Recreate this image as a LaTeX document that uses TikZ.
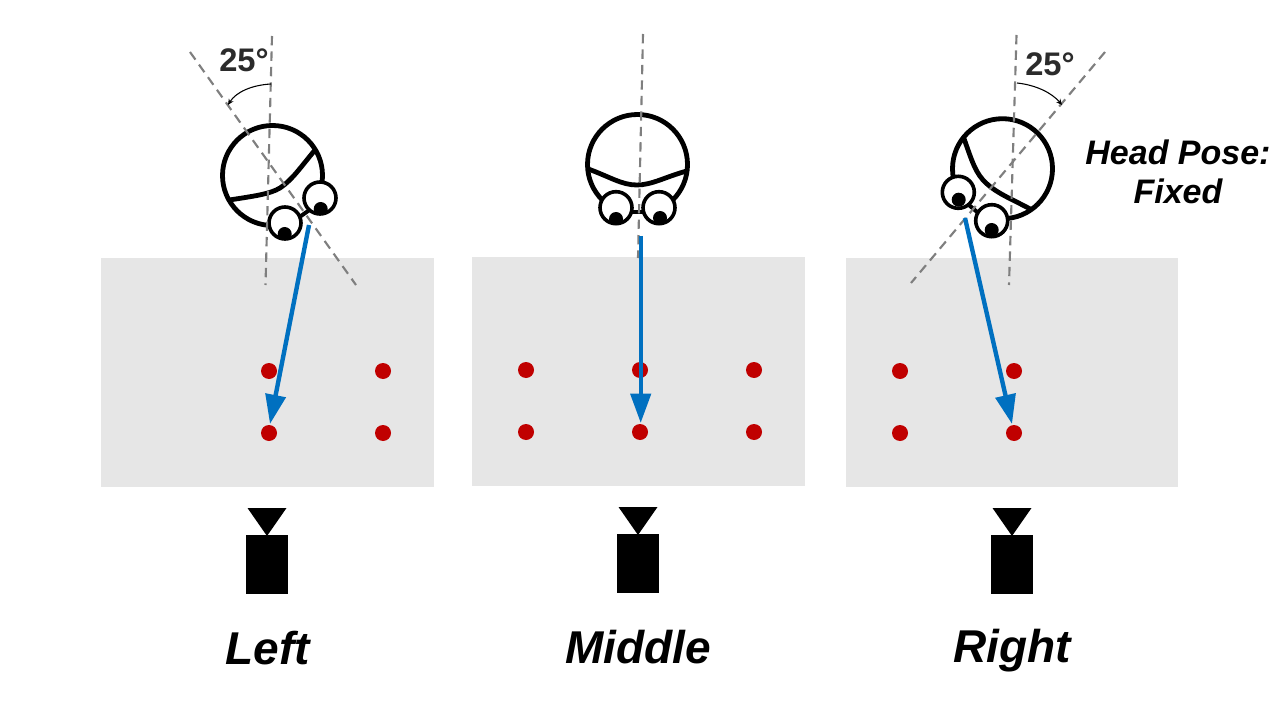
\documentclass[tikz,border=0pt]{standalone}
\usepackage{fontspec}
\setmainfont{Liberation Sans}
\usetikzlibrary{arrows.meta}
\definecolor{gazeblue}{HTML}{0070C0}
\definecolor{dotred}{HTML}{C00000}
\definecolor{panelgrey}{HTML}{E6E6E6}
\definecolor{axisgrey}{HTML}{7F7F7F}
\definecolor{labelgrey}{HTML}{2B2B2B}
\tikzset{
 panel/.style={fill=panelgrey,draw=none},
 target/.style={fill=dotred,draw=none},
 axisline/.style={draw=axisgrey,line width=1.6pt,dash pattern=on 7pt off 4.6pt},
 gaze/.style={draw=gazeblue,line width=3.3pt,-{Triangle[length=22pt,width=15pt]}},
 headline/.style={line width=3.6pt,draw=black},
 eyeball/.style={line width=2.7pt,draw=black,fill=white},
 angmark/.style={draw=black,line width=.8pt,-{Stealth[length=4.5pt,width=4pt]}},
 captext/.style={font=\fontsize{34.5}{36}\selectfont\bfseries\itshape,inner sep=0pt,anchor=base},
 note/.style={font=\fontsize{25.5}{29}\selectfont\bfseries\itshape,inner sep=0pt,align=center},
 deg/.style={font=\fontsize{24.5}{26}\selectfont\bfseries,text=labelgrey,inner sep=0pt},
}
\newcommand{\camera}[1]{%
 \fill (#1-19.5,508) -- (#1+19.5,508) -- (#1,536) -- cycle;
 \fill (#1-21,535) rectangle (#1+21,594);}
\newcommand{\eyeat}[4]{%
 \begin{scope}
 \clip (#1,#2) circle[radius=16];
 \fill (#3,#4) circle[radius=7];
 \end{scope}
 \draw[eyeball,fill=none] (#1,#2) circle[radius=16];}
\begin{document}
\begin{tikzpicture}[x=.75pt,y=-.75pt]
\useasboundingbox (0,0) rectangle (1280,720);
% panels
\fill[panel] (101,258) rectangle (433.5,486.5);
\fill[panel] (472,257) rectangle (804.5,485.5);
\fill[panel] (846,258) rectangle (1178,486.5);
% dots
\foreach \x/\y in {269/371,383/371,269/433,383/433,526/370,640/370,754/370,526/432,640/432,754/432,900/371,1014/371,900/433,1014/433}
  \fill[target] (\x,\y) circle[radius=8];
% head left
\draw[headline] (272.5,175.5) circle[radius=50];
\draw[headline] (229.3,200) .. controls (255,196) and (270,194) .. (280,188) .. controls (292,180) and (300,168) .. (315,150);
\fill[white] (303,209) circle[radius=17];
\draw[line width=3pt] (287,226) -- (322,201);
\fill[white] (320,198) circle[radius=16]; \fill[white] (285,223) circle[radius=16];
\eyeat{320}{198}{320.7}{209}
\eyeat{285}{223}{284.7}{234}
% head middle
\draw[headline] (637.5,164.5) circle[radius=50];
\fill[white] (637.5,212) circle[radius=15];
\draw[headline] (588.3,169) .. controls (610,177) and (622,185) .. (636.7,185) .. controls (652,185) and (665,177) .. (686.7,171);
\draw[line width=3pt] (616,212.5) -- (659,212.5);
\fill[white] (616,207.7) circle[radius=16]; \fill[white] (659,207.7) circle[radius=16];
\eyeat{616}{207.7}{616}{219}
\eyeat{659}{207.7}{660}{218}
% head right
\draw[headline] (1002.5,168.7) circle[radius=50];
\fill[white] (975,206) circle[radius=17];
\draw[headline] (963.3,136.7) .. controls (970,155) and (974,170) .. (983,180) .. controls (995,193) and (1012,199) .. (1030.7,209.3);
\draw[line width=3pt] (956.3,194.3) -- (989.7,222.7);
\fill[white] (958.3,192.3) circle[radius=16]; \fill[white] (991.7,220.7) circle[radius=16];
\eyeat{958.3}{192.3}{958.7}{199.7}
\eyeat{991.7}{220.7}{991.7}{230}
% axes
\coordinate (lvt) at (272,36); \coordinate (lvb) at (265.5,285);
\coordinate (ldt) at (190,52); \coordinate (ldb) at (356,285);
\coordinate (mvt) at (643,34); \coordinate (mvb) at (638,258);
\coordinate (rvt) at (1016.5,35); \coordinate (rvb) at (1009,285);
\coordinate (rdt) at (1105,52); \coordinate (rdb) at (911,283);
\draw[axisline] (lvt) -- (lvb);
\draw[axisline] (ldt) -- (ldb);
\draw[axisline] (mvt) -- (mvb);
\draw[axisline] (rvt) -- (rvb);
\draw[axisline] (rdt) -- (rdb);
% angle marks
\coordinate (las) at (271,84); \coordinate (lae) at (228,105);
\coordinate (ras) at (1017,83); \coordinate (rae) at (1062,105);
\draw[angmark] (las) .. controls (252,85) and (236,92) .. (lae);
\draw[angmark] (ras) .. controls (1036,85) and (1052,93) .. (rae);
% gaze
\coordinate (g1s) at (309,225); \coordinate (g1e) at (270,424);
\coordinate (g2s) at (640.7,236); \coordinate (g2e) at (640.7,423);
\coordinate (g3s) at (965,218); \coordinate (g3e) at (1012,424);
\draw[gaze] (g1s) -- (g1e);
\draw[gaze] (g2s) -- (g2e);
\draw[gaze] (g3s) -- (g3e);
% cameras
\camera{267}
\begin{scope}[yshift=.75pt]\camera{638}\end{scope}
\camera{1012}
% text
\node[deg] (a1) at (244,60) {25°};
\node[deg] (a2) at (1050,64) {25°};
\node[note] (hp) at (1178,172) {Head Pose:\\Fixed};
\node[captext] (c1) at (267.5,664) {Left};
\node[captext] (c2) at (638,663) {Middle};
\node[captext] (c3) at (1012,662) {Right};
\end{tikzpicture}
\end{document}
